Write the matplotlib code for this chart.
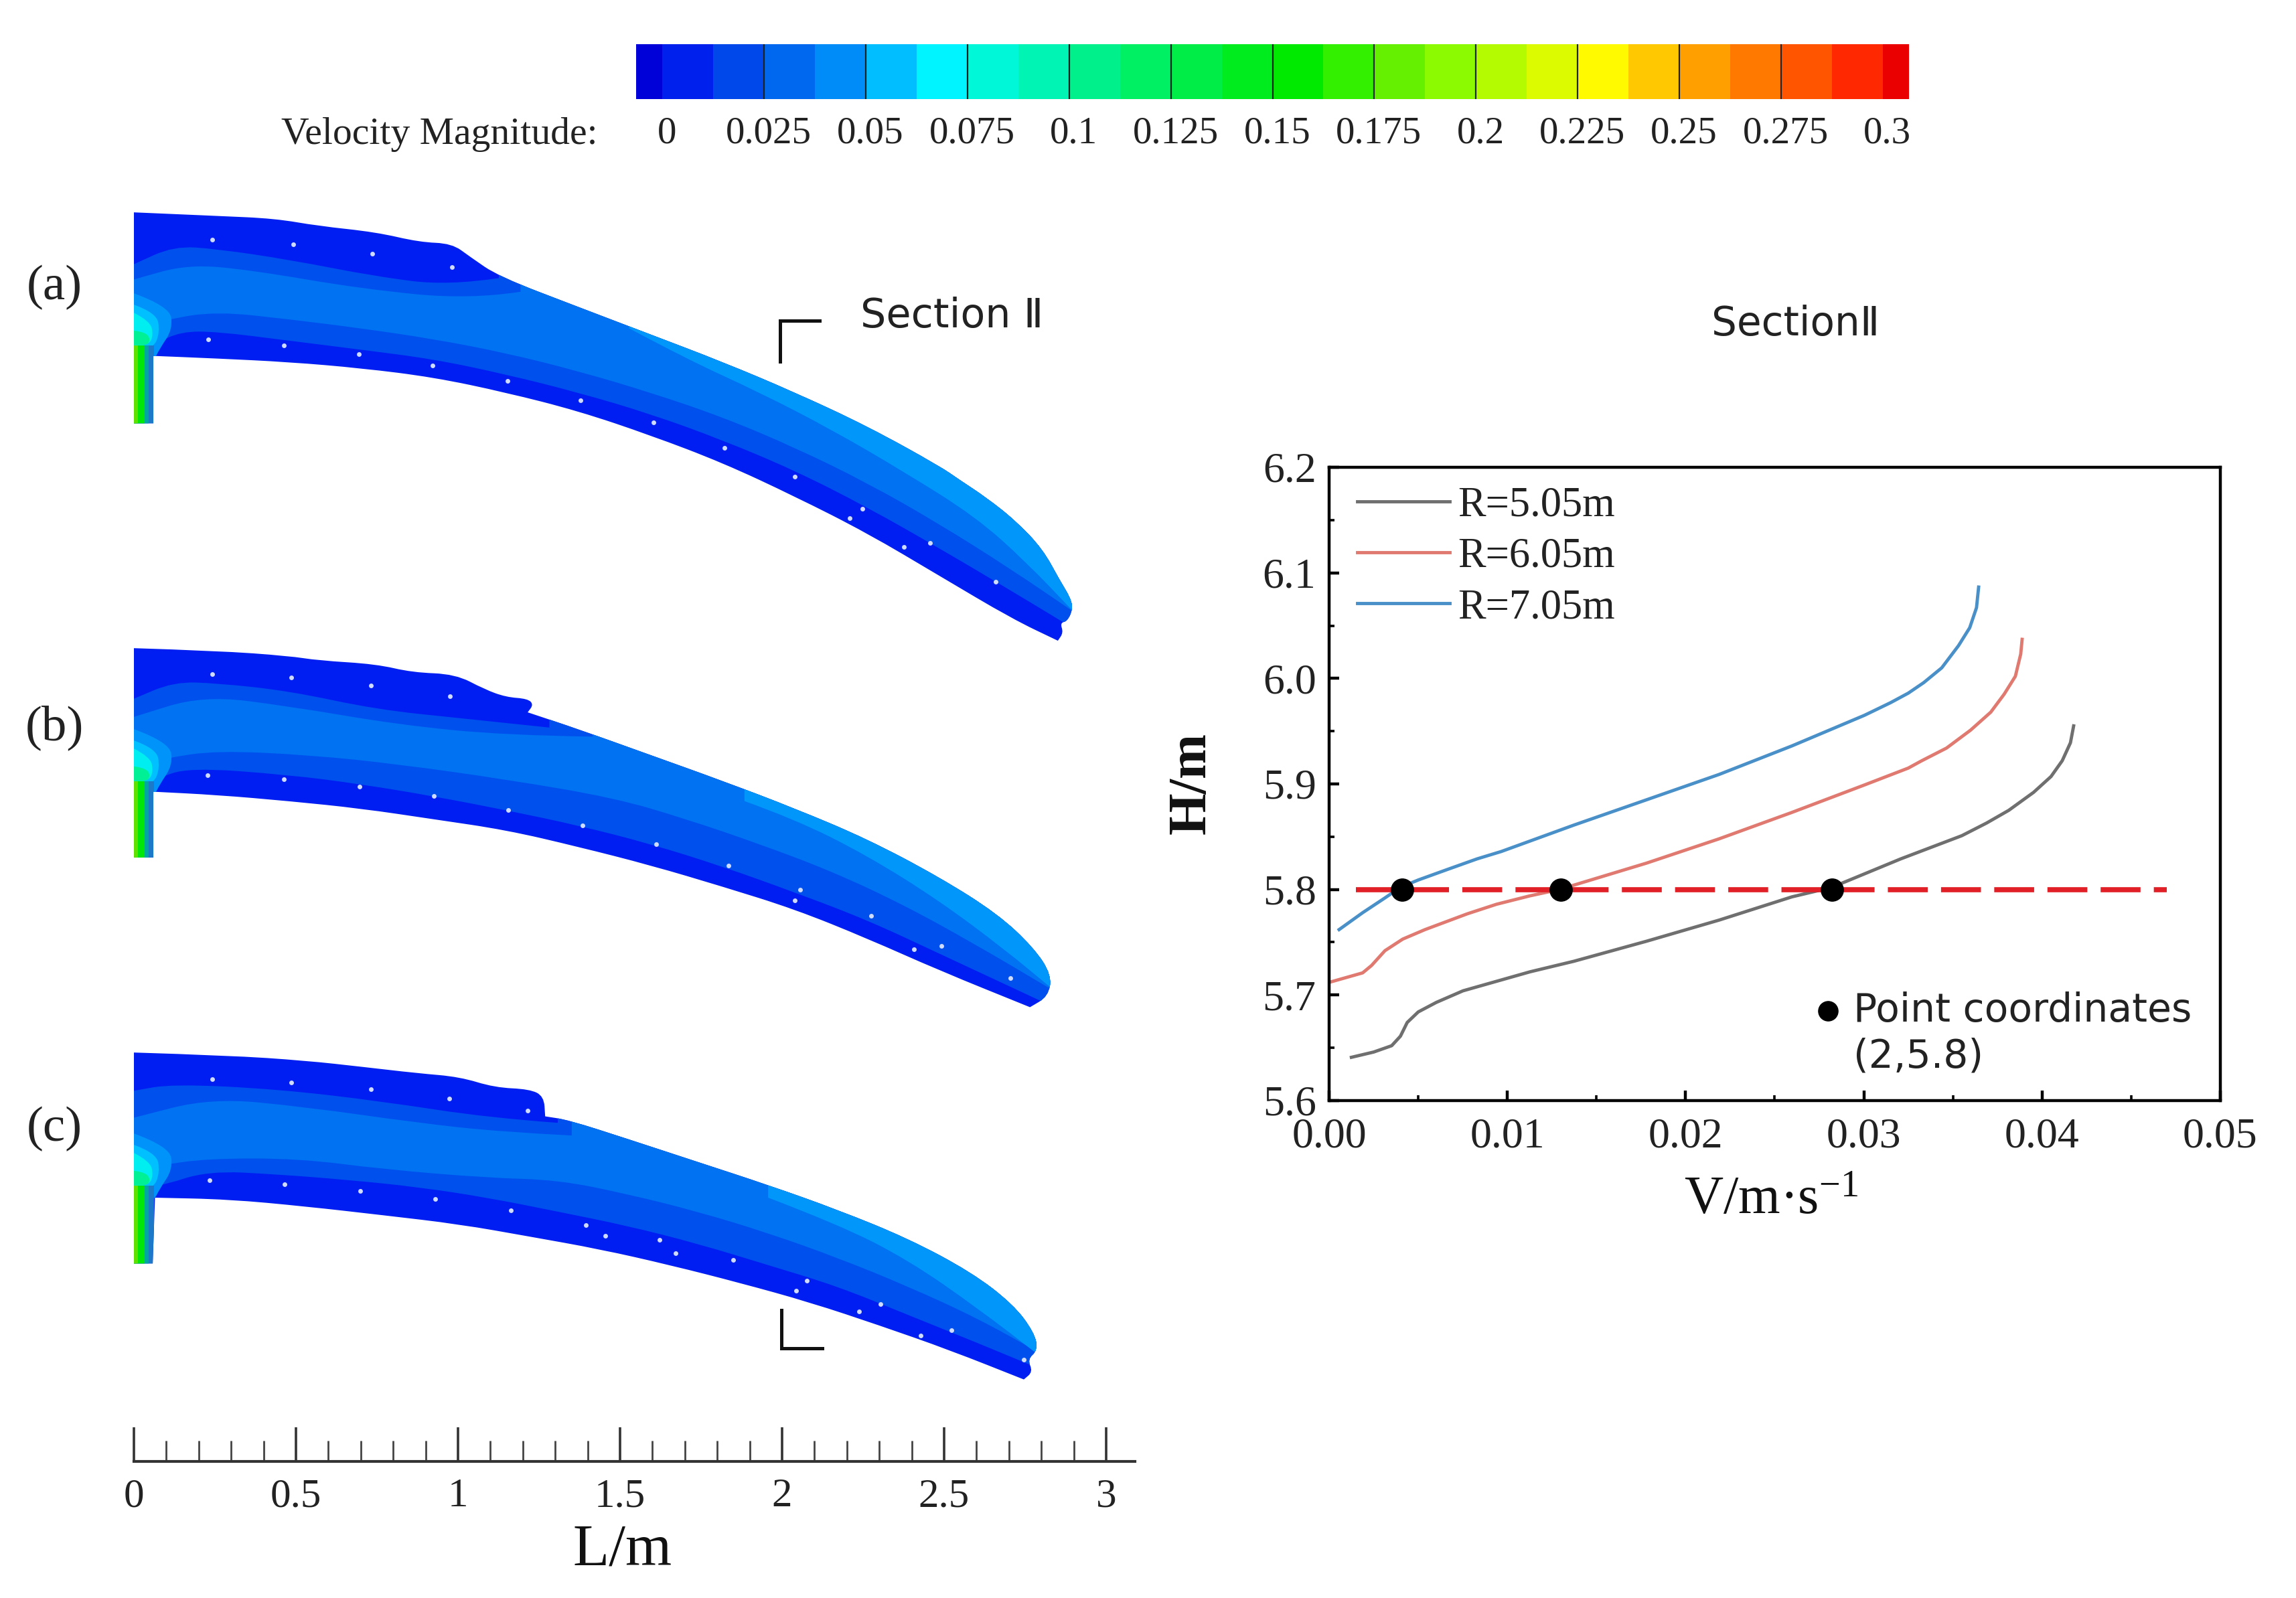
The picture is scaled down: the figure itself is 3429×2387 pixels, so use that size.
"""Velocity contours of the three jets and the Section II velocity profile."""

import matplotlib

matplotlib.use("Agg")
import matplotlib.pyplot as plt
from matplotlib.colors import ListedColormap
from matplotlib.patches import PathPatch, Polygon
from matplotlib.path import Path
from matplotlib.ticker import MultipleLocator
from matplotlib.transforms import ScaledTranslation

WIDTH = 3430
HEIGHT = 2387
SERIF = "Liberation Serif"
SANS = ["DejaVu Sans"]

# Colour bar
CB_EDGES = [-0.0065, 0, 0.0125, 0.025, 0.0375, 0.05, 0.0625, 0.075, 0.0875,
            0.1, 0.1125, 0.125, 0.1375, 0.15, 0.1625, 0.175, 0.1875, 0.2,
            0.2125, 0.225, 0.2375, 0.25, 0.2625, 0.275, 0.2875, 0.3, 0.3065]
CB_COLORS = ["#0000d8", "#0020ee", "#0048ea", "#0068ee", "#008cf8", "#00beff",
             "#00f4ff", "#00f8d8", "#00f4b4", "#00f08c", "#00f064", "#00ec46",
             "#00ec1e", "#00ea00", "#32f000", "#64f000", "#8cfa00", "#b4fa00",
             "#dcfa00", "#fffa00", "#ffc800", "#ffa000", "#ff7800", "#ff5500",
             "#ff2800", "#ea0000"]
CB_TICKS = [0, 0.025, 0.05, 0.075, 0.1, 0.125, 0.15, 0.175, 0.2, 0.225, 0.25,
            0.275, 0.3]
CB_LABELS = ["0", "0.025", "0.05", "0.075", "0.1", "0.125", "0.15", "0.175",
             "0.2", "0.225", "0.25", "0.275", "0.3"]

# Jet (a): outline, contour bands and white probes, in metres
A_TOP_X = [0, .256, .435, .569, .747, .881, .981, 1.037, 1.126, 1.371, 1.594,
           1.817, 2.040, 2.263, 2.486, 2.548, 2.630, 2.721, 2.804, 2.857,
           2.890, 2.897, 2.880, 2.858, 2.868, 2.851]
A_TOP_Y = [0, -.011, -.019, -.042, -.061, -.092, -.096, -.137, -.198, -.292,
           -.377, -.462, -.556, -.660, -.783, -.826, -.880, -.952, -1.039,
           -1.136, -1.190, -1.225, -1.262, -1.267, -1.297, -1.322]
A_BOT_X = [0, .060, .060, .256, .479, .702, .925, 1.148, 1.371, 1.594, 1.817,
           2.040, 2.263, 2.486, 2.709, 2.851]
A_BOT_Y = [-.651, -.651, -.443, -.451, -.462, -.481, -.509, -.556, -.613, -.688,
           -.773, -.877, -.990, -1.122, -1.254, -1.322]
A_B2_UP_X = [0, .123, .256, .479, .747, .970, 1.126]
A_B2_UP_Y = [-.160, -.104, -.113, -.146, -.198, -.226, -.203]
A_B2_LOW_X = [0, .067, .145, .256, .479, .702, .925, 1.148, 1.371, 1.594, 1.817,
              2.040, 2.263, 2.486, 2.709, 2.866]
A_B2_LOW_Y = [-.42, -.405, -.368, -.368, -.396, -.424, -.453, -.500, -.556, -.622,
              -.703, -.797, -.910, -1.037, -1.169, -1.264]
A_B3_UP_X = [0, .167, .368, .702, 1.037, 1.193]
A_B3_UP_Y = [-.207, -.160, -.179, -.236, -.269, -.245]
A_B3_LOW_X = [0, .100, .256, .479, .702, .925, 1.148, 1.371, 1.594, 1.817, 2.040,
              2.263, 2.486, 2.709, 2.897]
A_B3_LOW_Y = [-.36, -.330, -.306, -.330, -.358, -.391, -.434, -.490, -.556, -.632,
              -.726, -.835, -.962, -1.103, -1.231]
A_B4_X = [1.528, 1.706, 1.929, 2.152, 2.375, 2.598, 2.754, 2.897]
A_B4_Y = [-.358, -.453, -.555, -.670, -.800, -.940, -1.080, -1.230]
A_DOTS_X = [.241, .491, .736, .981, .230, .462, .694, .921, 1.153, 1.378, 1.603,
            1.822, 2.040, 2.248, 2.208, 2.457, 2.375, 2.660]
A_DOTS_Y = [-.085, -.099, -.127, -.168, -.393, -.410, -.438, -.473, -.521, -.580,
            -.649, -.726, -.816, -.915, -.943, -1.021, -1.032, -1.141]

# Jet (b)
B_TOP_X = [0, .256, .479, .569, .747, .859, .992, 1.082, 1.148, 1.215, 1.233,
           1.215, 1.215, 1.371, 1.594, 1.817, 2.040, 2.263, 2.486, 2.665, 2.776,
           2.832, 2.821, 2.765]
B_TOP_Y = [0, -.008, -.024, -.038, -.049, -.075, -.080, -.127, -.151, -.156,
           -.174, -.198, -.198, -.250, -.330, -.410, -.495, -.589, -.707, -.820,
           -.924, -1.009, -1.075, -1.108]
B_BOT_X = [0, .060, .060, .256, .479, .702, .925, 1.148, 1.371, 1.594, 1.817,
           2.040, 2.263, 2.486, 2.765]
B_BOT_Y = [-.646, -.646, -.443, -.453, -.472, -.495, -.528, -.561, -.613, -.670,
           -.736, -.806, -.896, -.995, -1.108]
B_B2_UP_X = [0, .123, .256, .479, .747, 1.015, 1.282]
B_B2_UP_Y = [-.156, -.104, -.108, -.132, -.189, -.217, -.245]
B_B2_LOW_X = [0, .067, .167, .479, .702, .925, 1.148, 1.371, 1.594, 1.817, 2.040,
              2.263, 2.486, 2.709, 2.799]
B_B2_LOW_Y = [-.42, -.405, -.368, -.391, -.420, -.457, -.500, -.547, -.604, -.674,
              -.754, -.839, -.943, -1.047, -1.089]
B_B3_UP_X = [0, .212, .479, .814, 1.148, 1.416]
B_B3_UP_Y = [-.212, -.146, -.179, -.236, -.269, -.273]
B_B3_LOW_X = [0, .100, .256, .546, .814, 1.148, 1.483, 1.706, 1.929, 2.152, 2.375,
              2.598, 2.821]
B_B3_LOW_Y = [-.36, -.339, -.316, -.330, -.358, -.405, -.462, -.528, -.604, -.688,
              -.792, -.915, -1.047]
B_B4_X = [1.884, 2.040, 2.263, 2.486, 2.687, 2.832]
B_B4_Y = [-.472, -.528, -.640, -.780, -.930, -1.050]
B_DOTS_X = [.241, .486, .731, .975, .227, .462, .696, .925, 1.155, 1.385, 1.612,
            1.835, 2.056, 2.040, 2.275, 2.491, 2.408, 2.705]
B_DOTS_Y = [-.080, -.091, -.115, -.149, -.393, -.404, -.427, -.457, -.500, -.547,
            -.604, -.671, -.745, -.778, -.827, -.919, -.929, -1.018]

# Jet (c)
C_TOP_X = [0, .292, .530, .703, .876, 1.005, 1.113, 1.221, 1.265, 1.269, 1.269,
           1.340, 1.524, 1.740, 1.957, 2.173, 2.389, 2.584, 2.713, 2.778, 2.789,
           2.757, 2.774, 2.746]
C_TOP_Y = [0, -.009, -.025, -.044, -.064, -.075, -.108, -.113, -.135, -.197,
           -.197, -.208, -.267, -.338, -.409, -.486, -.574, -.678, -.777, -.864,
           -.919, -.947, -.985, -1.009]
C_BOT_X = [0, .058, .065, .292, .530, .768, 1.005, 1.221, 1.438, 1.654, 1.870,
           2.086, 2.303, 2.519, 2.746]
C_BOT_Y = [-.651, -.651, -.448, -.453, -.475, -.502, -.530, -.568, -.607, -.656,
           -.711, -.771, -.843, -.919, -1.009]
C_B2_UP_X = [0, .119, .443, .768, 1.092, 1.308]
C_B2_UP_Y = [-.118, -.097, -.113, -.151, -.201, -.217]
C_B2_LOW_X = [0, .076, .227, .443, .659, .876, 1.092, 1.308, 1.524, 1.740, 1.957,
              2.173, 2.389, 2.605, 2.778]
C_B2_LOW_Y = [-.42, -.415, -.365, -.376, -.393, -.415, -.448, -.491, -.535, -.590,
              -.656, -.722, -.810, -.897, -.969]
C_B3_UP_X = [0, .238, .530, .876, 1.135, 1.351]
C_B3_UP_Y = [-.201, -.140, -.168, -.217, -.245, -.256]
C_B3_LOW_X = [0, .076, .227, .508, .768, 1.092, 1.308, 1.524, 1.740, 1.957, 2.173,
              2.389, 2.605, 2.800]
C_B3_LOW_Y = [-.36, -.349, -.327, -.327, -.360, -.387, -.393, -.437, -.491, -.557,
              -.634, -.722, -.821, -.930]
C_B4_X = [1.957, 2.173, 2.389, 2.605, 2.800]
C_B4_Y = [-.448, -.530, -.640, -.790, -.940]
C_DOTS_X = [.242, .486, .731, .973, 1.215, .233, .465, .698, .930, 1.163, 1.394,
            1.455, 1.622, 1.671, 1.849, 2.076, 2.043, 2.303, 2.238, 2.523,
            2.428, 2.746]
C_DOTS_Y = [-.082, -.093, -.113, -.142, -.179, -.395, -.406, -.428, -.453, -.488,
            -.532, -.565, -.579, -.620, -.640, -.705, -.735, -.777, -.799, -.857,
            -.873, -.947]

# Light core at the inlet, same in all three jets
JET1_X = [0, .11, .12, .08, .06, 0]
JET1_Y = [-.25, -.29, -.36, -.42, -.46, -.46]
JET2_X = [0, .07, .08, .06, 0]
JET2_Y = [-.285, -.31, -.37, -.42, -.42]
JET3_X = [0, .05, .06, .045, 0]
JET3_Y = [-.31, -.335, -.38, -.41, -.41]
JET4_X = [0, .045, .05, 0]
JET4_Y = [-.365, -.37, -.41, -.41]
JET_COLORS = ["#0094fa", "#00c0ff", "#00eef0", "#00f096"]

# Inlet stem, from its right edge to its left edge
STEM_RIGHT_X = [.062, .045, .034, .012]
STEM_COLORS = ["#1c78c8", "#00a8a0", "#00e808", "#60e000"]
STEM_TOP_Y = -.41
STEM_BOTTOM_Y = -.66

BAND_COLORS = ["#001ef2", "#0050ee", "#0072f2", "#0096fa"]

# Section II bracket marks
BRACKET_A_X = [2.115, 1.993, 1.993]
BRACKET_A_Y = [-.334, -.334, -.461]
BRACKET_C_X = [1.997, 1.997, 2.124]
BRACKET_C_Y = [-.795, -.913, -.913]

# Velocity profile at Section II
R505_V = [.00125, .0025, .00351, .004, .00438, .005, .00601, .00751, .00939,
          .01127, .01373, .01781, .02188, .02596, .0282, .03207, .0355, .03689,
          .03813, .03952, .0405, .04113, .04159, .04177]
R505_H = [5.641, 5.646, 5.652, 5.661, 5.674, 5.684, 5.693, 5.704, 5.713, 5.722,
          5.732, 5.751, 5.771, 5.793, 5.802, 5.829, 5.851, 5.863, 5.875, 5.892,
          5.907, 5.922, 5.939, 5.955]
R605_V = [0, .00188, .00238, .00313, .00413, .00538, .00776, .00939, .01127,
          .01292, .01781, .02188, .02596, .03003, .03249, .03325, .03464,
          .03599, .03712, .03787, .0385, .0388, .03888]
R605_H = [5.712, 5.721, 5.728, 5.742, 5.753, 5.762, 5.777, 5.786, 5.794, 5.80,
          5.825, 5.848, 5.873, 5.899, 5.915, 5.922, 5.934, 5.951, 5.968, 5.985,
          6.002, 6.023, 6.037]
R705_V = [.00056, .00188, .00313, .004, .005, .00664, .0083, .00966, .01373,
          .01781, .02188, .02596, .03003, .0315, .03249, .03336, .03437, .03531,
          .03594, .03632, .03644]
R705_H = [5.762, 5.778, 5.792, 5.802, 5.809, 5.819, 5.829, 5.836, 5.861, 5.885,
          5.909, 5.936, 5.965, 5.977, 5.986, 5.996, 6.010, 6.031, 6.048, 6.067,
          6.0865]
LINE_V = [.0015, .047]
LINE_H = [5.8, 5.8]
POINT_V = [.0041, .013, .0282]
POINT_H = [5.8, 5.8, 5.8]
KEY_V = [.028]
KEY_H = [5.685]

SCALE_TICKS = [0, 0.5, 1, 1.5, 2, 2.5, 3]
SCALE_LABELS = ["0", "0.5", "1", "1.5", "2", "2.5", "3"]


def px_axes(fig, left, top, width, height):
    """Add an axes placed in picture pixels, y counted from the top."""
    return fig.add_axes(
        [left / WIDTH, 1 - (top + height) / HEIGHT, width / WIDTH, height / HEIGHT]
    )


def px_text(fig, x, y, text, **kwargs):
    """Put centred text at a picture pixel position."""
    kwargs.setdefault("ha", "center")
    kwargs.setdefault("va", "center")
    fig.text(x / WIDTH, 1 - y / HEIGHT, text, **kwargs)


def plot_colorbar(fig):
    ax = px_axes(fig, 950, 66, 1901, 82)
    ax.pcolormesh(
        CB_EDGES,
        [0, 1],
        [list(range(len(CB_COLORS)))],
        cmap=ListedColormap(CB_COLORS),
        vmin=-0.5,
        vmax=len(CB_COLORS) - 0.5,
    )
    ax.vlines(CB_TICKS[1:-1], 0, 1, color="#222222", lw=1.6)
    ax.set_xlim(CB_EDGES[0], CB_EDGES[-1])
    ax.set_ylim(0, 1)
    ax.set_yticks([])
    ax.set_xticks(CB_TICKS)
    ax.set_xticklabels(CB_LABELS, fontfamily=SERIF, fontsize=41, color="#222222")
    ax.tick_params(axis="x", length=0, pad=18)
    # The labels sit a little right of the lines in the original
    shift = ScaledTranslation(5 / 72, 0, fig.dpi_scale_trans)
    for label in ax.get_xticklabels():
        label.set_transform(label.get_transform() + shift)
    for spine in ax.spines.values():
        spine.set_visible(False)
    px_text(fig, 656, 201, "Velocity Magnitude:", family=SERIF, fontsize=41.5,
            color="#222222")


def smooth_segment(points, first_code):
    """Quadratic curve segments that use the read points as control points."""
    verts = [points[0]]
    codes = [first_code]
    for i in range(1, len(points) - 1):
        mid = ((points[i][0] + points[i + 1][0]) / 2,
               (points[i][1] + points[i + 1][1]) / 2)
        verts += [points[i], mid]
        codes += [Path.CURVE3, Path.CURVE3]
    verts.append(points[-1])
    codes.append(Path.LINETO)
    return verts, codes


def closed_path(*parts):
    """Join smooth parts (lists of points) into one closed path."""
    verts = []
    codes = []
    for part in parts:
        first = Path.LINETO if verts else Path.MOVETO
        part_verts, part_codes = smooth_segment(part, first)
        verts += part_verts
        codes += part_codes
    verts.append(verts[0])
    codes.append(Path.CLOSEPOLY)
    return Path(verts, codes)


def outline_path(panel):
    top = list(zip(panel["top_x"], panel["top_y"]))
    bot = list(zip(panel["bot_x"], panel["bot_y"]))
    return closed_path(top + bot[:1:-1], [bot[1], bot[0]])


def band_path(low_x, low_y, up_x=None, up_y=None):
    """Region above a contour line. The outline clips what sticks out."""
    low = list(zip(low_x, low_y))
    corners = [(3.2, low_y[-1]), (3.2, 0.1)]
    if up_x is None:
        return closed_path(low, corners + [(low_x[0], 0.1)])
    up = list(zip(up_x[::-1], up_y[::-1]))
    return closed_path(low, corners + [(up_x[-1], 0.1)], up)


def plot_jet(fig, top_px, panel):
    """Draw one jet as a stack of clipped contour bands."""
    # 484 px per metre, same scale in both directions
    ax = px_axes(fig, 200, top_px - 24, 3.2 * 484, 1.5 * 484)
    ax.set_xlim(0, 3.2)
    ax.set_ylim(-1.45, 0.05)
    ax.axis("off")

    clip = PathPatch(outline_path(panel), facecolor=BAND_COLORS[0], edgecolor="none")
    ax.add_patch(clip)

    curved = [
        (band_path(panel["b2_low_x"], panel["b2_low_y"],
                   panel["b2_up_x"], panel["b2_up_y"]), BAND_COLORS[1]),
        (band_path(panel["b3_low_x"], panel["b3_low_y"],
                   panel["b3_up_x"], panel["b3_up_y"]), BAND_COLORS[2]),
        (band_path(panel["b4_x"], panel["b4_y"]), BAND_COLORS[3]),
        (closed_path(list(zip(JET1_X, JET1_Y))), JET_COLORS[0]),
        (closed_path(list(zip(JET2_X, JET2_Y))), JET_COLORS[1]),
        (closed_path(list(zip(JET3_X, JET3_Y))), JET_COLORS[2]),
        (closed_path(list(zip(JET4_X, JET4_Y))), JET_COLORS[3]),
    ]
    for path, color in curved:
        patch = PathPatch(path, facecolor=color, edgecolor="none")
        ax.add_patch(patch)
        patch.set_clip_path(clip)
    for right, color in zip(STEM_RIGHT_X, STEM_COLORS):
        verts = [(0, STEM_TOP_Y), (right, STEM_TOP_Y),
                 (right, STEM_BOTTOM_Y), (0, STEM_BOTTOM_Y)]
        patch = Polygon(verts, closed=True, facecolor=color, edgecolor="none")
        ax.add_patch(patch)
        patch.set_clip_path(clip)

    ax.plot(panel["dots_x"], panel["dots_y"], ls="none", marker="o", ms=5,
            color="#cfdcff", mew=0)
    return ax


def plot_scale(fig):
    ax = px_axes(fig, 200, 2083, 1495, 100)
    ax.set_xlim(0, 1495 / 484)
    ax.set_ylim(0, 1)
    ax.set_yticks([])
    for name in ("top", "left", "right"):
        ax.spines[name].set_visible(False)
    ax.spines["bottom"].set_linewidth(3)
    ax.spines["bottom"].set_color("#333333")
    ax.set_xticks(SCALE_TICKS)
    ax.set_xticklabels(SCALE_LABELS, fontfamily=SERIF, fontsize=44, color="#222222")
    ax.xaxis.set_minor_locator(MultipleLocator(0.1))
    ax.tick_params(axis="x", which="major", direction="in", length=37, width=2.6,
                   color="#333333", pad=18)
    ax.tick_params(axis="x", which="minor", direction="in", length=22, width=2,
                   color="#444444")
    px_text(fig, 930, 2316, "L/m", family=SERIF, fontsize=64, color="#111111")


def plot_profile(fig):
    ax = px_axes(fig, 1985, 698, 1331, 946)
    ax.plot(R505_V, R505_H, color="#6f6f6f", lw=3.5, label="R=5.05m")
    ax.plot(R605_V, R605_H, color="#e07a70", lw=3.5, label="R=6.05m")
    ax.plot(R705_V, R705_H, color="#4a90c8", lw=3.5, label="R=7.05m")
    ax.plot(LINE_V, LINE_H, color="#e01f26", lw=5.5, dashes=(7.8, 2.6))
    ax.plot(POINT_V, POINT_H, ls="none", marker="o", ms=24, color="black", zorder=5)
    ax.plot(KEY_V, KEY_H, ls="none", marker="o", ms=21, color="black")
    ax.text(.0294, 5.685, "Point coordinates", family=SANS, fontsize=42,
            color="#222222", va="center")
    ax.text(.0294, 5.642, "(2,5.8)", family=SANS, fontsize=42, color="#222222",
            va="center")

    ax.set_xlim(0, 0.05)
    ax.set_ylim(5.6, 6.2)
    ax.xaxis.set_major_locator(MultipleLocator(0.01))
    ax.xaxis.set_minor_locator(MultipleLocator(0.005))
    ax.yaxis.set_major_locator(MultipleLocator(0.1))
    ax.yaxis.set_minor_locator(MultipleLocator(0.05))
    ax.xaxis.set_major_formatter("{x:.2f}")
    ax.yaxis.set_major_formatter("{x:.1f}")
    ax.tick_params(which="major", direction="in", length=11, width=3.2,
                   labelsize=46, labelcolor="#222222")
    ax.tick_params(axis="x", which="major", pad=18)
    ax.tick_params(axis="y", which="major", pad=14)
    ax.tick_params(which="minor", direction="in", length=6, width=2.6)
    for label in ax.get_xticklabels() + ax.get_yticklabels():
        label.set_fontfamily(SERIF)
    for spine in ax.spines.values():
        spine.set_linewidth(3.2)

    legend = ax.legend(
        loc="upper left",
        bbox_to_anchor=(0.01, 1.0),
        frameon=False,
        prop={"family": SERIF, "size": 45},
        handlelength=2.2,
        handletextpad=0.2,
        labelspacing=0.29,
        borderaxespad=0.06,
    )
    for text in legend.get_texts():
        text.set_color("#222222")

    px_text(fig, 1780, 1170, "H/m", family=SERIF, fontsize=58, rotation=90,
            fontweight="bold", color="#111111")
    px_text(fig, 2645, 1794, "V/m\u00b7s$^{-1}$", family=SERIF, fontsize=58,
            color="#111111")


def main():
    plt.rcParams["mathtext.fontset"] = "custom"
    plt.rcParams["mathtext.rm"] = SERIF
    plt.rcParams["mathtext.default"] = "rm"

    fig = plt.figure(figsize=(WIDTH / 100, HEIGHT / 100), dpi=100, facecolor="white")

    plot_colorbar(fig)

    jet_a = {"top_x": A_TOP_X, "top_y": A_TOP_Y, "bot_x": A_BOT_X, "bot_y": A_BOT_Y,
             "b2_low_x": A_B2_LOW_X, "b2_low_y": A_B2_LOW_Y,
             "b2_up_x": A_B2_UP_X, "b2_up_y": A_B2_UP_Y,
             "b3_low_x": A_B3_LOW_X, "b3_low_y": A_B3_LOW_Y,
             "b3_up_x": A_B3_UP_X, "b3_up_y": A_B3_UP_Y,
             "b4_x": A_B4_X, "b4_y": A_B4_Y,
             "dots_x": A_DOTS_X, "dots_y": A_DOTS_Y}
    jet_b = {"top_x": B_TOP_X, "top_y": B_TOP_Y, "bot_x": B_BOT_X, "bot_y": B_BOT_Y,
             "b2_low_x": B_B2_LOW_X, "b2_low_y": B_B2_LOW_Y,
             "b2_up_x": B_B2_UP_X, "b2_up_y": B_B2_UP_Y,
             "b3_low_x": B_B3_LOW_X, "b3_low_y": B_B3_LOW_Y,
             "b3_up_x": B_B3_UP_X, "b3_up_y": B_B3_UP_Y,
             "b4_x": B_B4_X, "b4_y": B_B4_Y,
             "dots_x": B_DOTS_X, "dots_y": B_DOTS_Y}
    jet_c = {"top_x": C_TOP_X, "top_y": C_TOP_Y, "bot_x": C_BOT_X, "bot_y": C_BOT_Y,
             "b2_low_x": C_B2_LOW_X, "b2_low_y": C_B2_LOW_Y,
             "b2_up_x": C_B2_UP_X, "b2_up_y": C_B2_UP_Y,
             "b3_low_x": C_B3_LOW_X, "b3_low_y": C_B3_LOW_Y,
             "b3_up_x": C_B3_UP_X, "b3_up_y": C_B3_UP_Y,
             "b4_x": C_B4_X, "b4_y": C_B4_Y,
             "dots_x": C_DOTS_X, "dots_y": C_DOTS_Y}

    ax_a = plot_jet(fig, 317, jet_a)
    plot_jet(fig, 968, jet_b)
    ax_c = plot_jet(fig, 1572, jet_c)
    ax_a.plot(BRACKET_A_X, BRACKET_A_Y, color="#111111", lw=3.6,
              solid_joinstyle="miter")
    ax_c.plot(BRACKET_C_X, BRACKET_C_Y, color="#111111", lw=3.6,
              solid_joinstyle="miter")

    plot_scale(fig)
    plot_profile(fig)

    for y, label in ((429, "(a)"), (1087, "(b)"), (1686, "(c)")):
        px_text(fig, 81, y, label, family=SERIF, fontsize=54, color="#222222")
    px_text(fig, 1422, 473, "Section \u2161", family=SANS, fontsize=43.5, color="#222222")
    px_text(fig, 2682, 484, "Section\u2161", family=SANS, fontsize=43, color="#222222")

    fig.savefig("out.png", dpi=100)
    plt.close(fig)


if __name__ == "__main__":
    main()
